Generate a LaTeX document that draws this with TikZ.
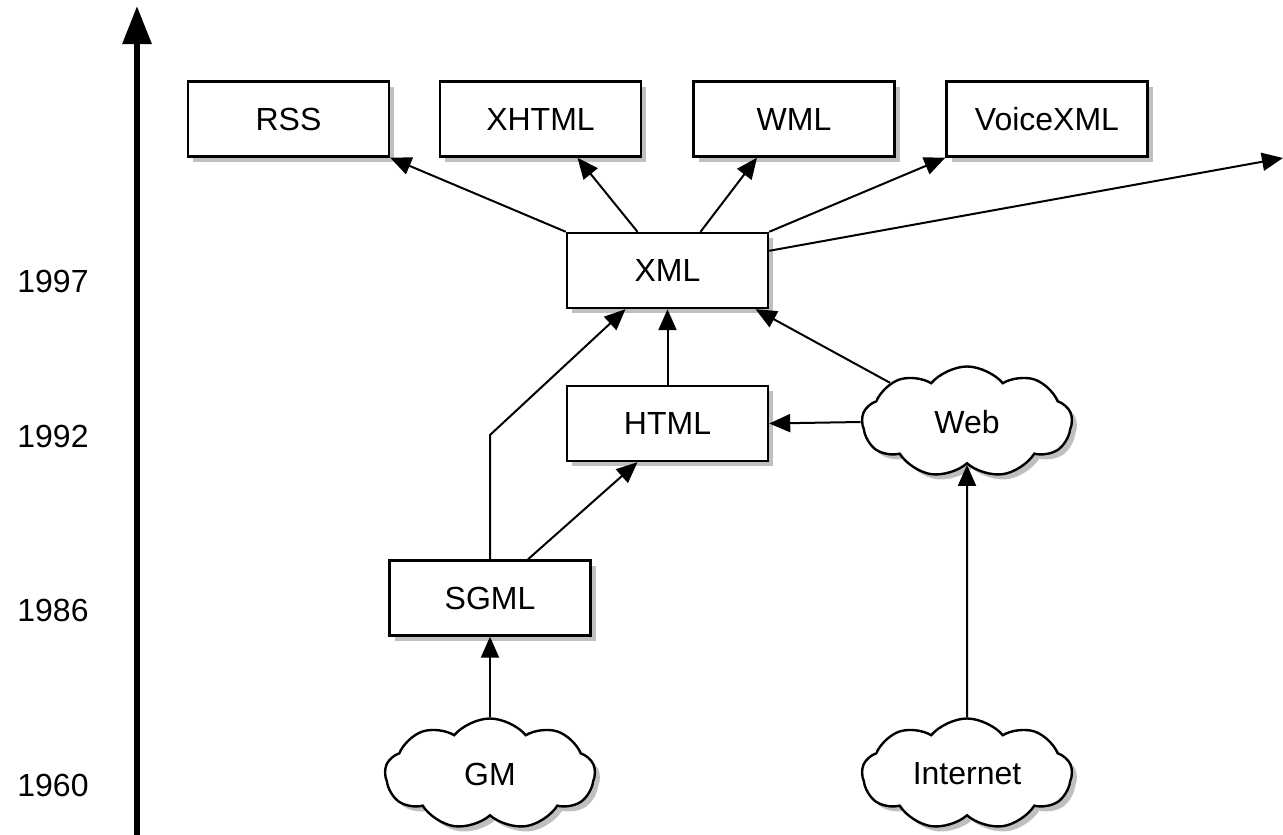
\documentclass[tikz,border=0pt]{standalone}
\usepackage{fontspec}
\setmainfont{Liberation Sans}
\usetikzlibrary{shapes.symbols,shadows,arrows.meta,calc}
\begin{document}
\begin{tikzpicture}[x=1pt,y=-1pt,
  every node/.style={font=\fontsize{32}{36}\selectfont},
  shad/.style={drop shadow={shadow xshift=5pt,shadow yshift=-5pt,opacity=0.25,fill=black}},
  tbox/.style={draw,line width=2.4pt,fill=white,minimum width=201pt,minimum height=75pt,inner sep=0pt,shad},
  tcloud/.style={cloud,draw,line width=2.4pt,fill=white,cloud puffs=9,cloud puff arc=100,aspect=1.9,minimum width=210pt,minimum height=111pt,inner sep=0pt,shad},
  year/.style={inner sep=0pt},
  conn/.style={line width=2pt,-{Triangle[length=21pt,width=18pt]}},
  axis/.style={line width=6pt,-{Triangle[length=38pt,width=28pt]}}]
\useasboundingbox (0,0) rectangle (1283,835);
% axis
\coordinate (axbot) at (137,845);
\coordinate (axtop) at (137,6);
\draw[axis] (axbot) -- (axtop);
\node[year] (y1997) at (53,281) {1997};
\node[year] (y1992) at (53,436) {1992};
\node[year] (y1986) at (53,610) {1986};
\node[year] (y1960) at (53,785) {1960};
% boxes
\node[tbox] (RSS) at (288.5,119) {RSS};
\node[tbox] (XHTML) at (540.5,119) {XHTML};
\node[tbox] (WML) at (794,119) {WML};
\node[tbox] (VoiceXML) at (1047,119) {VoiceXML};
\node[tbox] (XML) at (667.5,270.5) {XML};
\node[tbox] (HTML) at (667.5,423.5) {HTML};
\node[tbox] (SGML) at (490,598) {SGML};
% clouds
\node[tcloud] (Web) at (967,422) {Web};
\node[tcloud] (GM) at (490,774) {GM};
\node[tcloud] (Internet) at (967,774) {Internet};
% connectors
\coordinate (offright) at (1283,158);
\coordinate (bend) at (490,435);
\draw[conn] (XML.north west) -- (RSS.south east);
\draw[conn] ([xshift=-30pt]XML.north) -- ([xshift=37pt]XHTML.south);
\draw[conn] ([xshift=33pt]XML.north) -- ([xshift=-37pt]WML.south);
\draw[conn] (XML.north east) -- (VoiceXML.south west);
\draw[conn] ([yshift=-19pt]XML.north east) -- (offright);
\draw[conn] (SGML.north) -- (bend) -- ([xshift=-42pt]XML.south);
\draw[conn] ([xshift=38pt]SGML.north) -- ([xshift=-30pt]HTML.south);
\draw[conn] (HTML.north) -- (XML.south);
\draw[conn] (Web.153) -- ([xshift=88pt]XML.south);
\draw[conn] (Web.west) -- (HTML.east);
\draw[conn] (Internet.north) -- (Web.south);
\draw[conn] (GM.north) -- (SGML.south);
\end{tikzpicture}
\end{document}
